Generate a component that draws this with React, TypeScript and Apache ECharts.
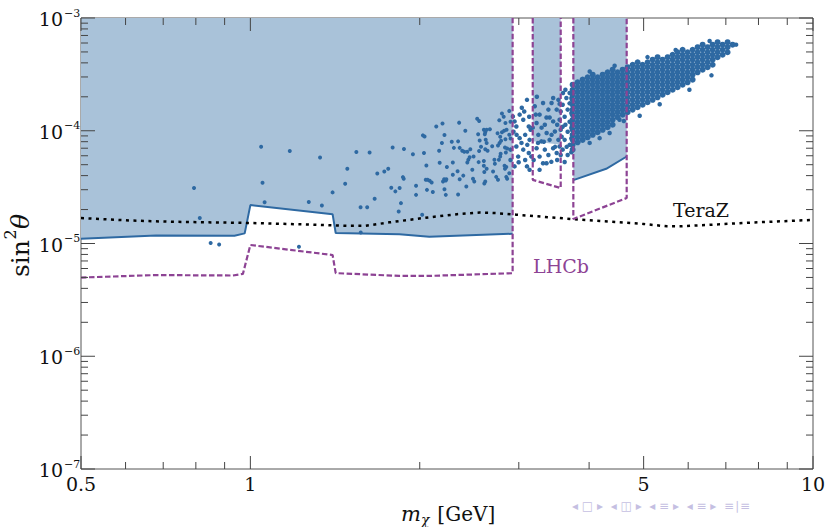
import { useEffect, useRef } from "react";
import * as echarts from "echarts";

const FONT = "'DejaVu Serif', 'Liberation Serif', serif";
const BLUE = "#2e69a2";
const FILL = "#a9c2d9";
const PURPLE = "#8d4394";

// ---- axis ticks ----
const xMajorTicks = [0.5, 1, 5, 10];
const xTickLabels = ["0.5", "1", "5", "10"];
const xMinorTicks = [0.6, 0.7, 0.8, 0.9, 2, 3, 4, 6, 7, 8, 9];
const yMajorTicks = [1e-7, 1e-6, 1e-5, 1e-4, 1e-3];
const yTickExponents = ["−7", "−6", "−5", "−4", "−3"];
const yMinorMultipliers = [2, 3, 4, 5, 6, 7, 8, 9];

// ---- excluded regions (B decays) ----
const bDecaysMain = [[0.5, 1e-3], [0.5, 1.10e-5], [0.68, 1.18e-5], [0.937, 1.17e-5], [0.977, 1.23e-5], [1.0, 2.19e-5], [1.40, 1.82e-5], [1.418, 1.24e-5], [1.84, 1.21e-5], [2.08, 1.15e-5], [2.925, 1.22e-5], [2.925, 1e-3]];
const bDecaysWindow1 = [[3.176, 1e-3], [3.176, 8.05e-5], [3.561, 7.5e-5], [3.561, 1e-3]];
const bDecaysWindow2 = [[3.75, 1e-3], [3.75, 3.65e-5], [4.29, 4.6e-5], [4.665, 5.91e-5], [4.665, 1e-3]];
const bDecaysEdgeMain = [[0.5, 1.10e-5], [0.68, 1.18e-5], [0.937, 1.17e-5], [0.977, 1.23e-5], [1.0, 2.19e-5], [1.40, 1.82e-5], [1.418, 1.24e-5], [1.84, 1.21e-5], [2.08, 1.15e-5], [2.925, 1.22e-5]];
const bDecaysEdgeWindow2 = [[3.75, 3.65e-5], [4.29, 4.6e-5], [4.665, 5.91e-5]];

// ---- LHCb projection ----
const lhcbLow = [[0.5, 4.99e-6], [0.68, 5.25e-6], [0.93, 5.2e-6], [0.97, 5.38e-6], [1.0, 9.7e-6], [1.40, 7.9e-6], [1.418, 5.46e-6], [1.84, 5.16e-6], [2.08, 5.16e-6], [2.925, 5.45e-6], [2.925, 1e-3]];
const lhcbWindow1 = [[3.176, 1e-3], [3.176, 3.67e-5], [3.561, 3.10e-5], [3.561, 1e-3]];
const lhcbWindow2 = [[3.75, 1e-3], [3.75, 1.65e-5], [4.665, 2.53e-5], [4.665, 1e-3]];

// ---- TeraZ projection ----
const teraZ = [[0.5, 1.68e-5], [0.61, 1.6e-5], [0.719, 1.56e-5], [1.0, 1.52e-5], [1.224, 1.48e-5], [1.501, 1.435e-5], [1.6, 1.435e-5], [1.768, 1.54e-5], [2.024, 1.68e-5], [2.33, 1.82e-5], [2.556, 1.88e-5], [2.735, 1.86e-5], [2.97, 1.8e-5], [3.74, 1.646e-5], [4.532, 1.54e-5], [5.0, 1.49e-5], [5.5, 1.42e-5], [5.8, 1.42e-5], [6.8, 1.48e-5], [7.7, 1.53e-5], [10, 1.62e-5]];

// ---- model points: sparse part ----
const pointsSparse = [[0.794, 3.1e-5], [0.813, 1.68e-5], [0.85, 1.01e-5], [0.88, 9.8e-6], [1.045, 7.2e-5], [1.175, 6.6e-5], [1.33, 5.8e-5], [1.487, 4.6e-5], [1.051, 3.46e-5], [1.06, 2.32e-5], [1.27, 2.33e-5], [1.34, 2.17e-5], [1.40, 2.84e-5], [1.474, 3.39e-5], [1.22, 9.35e-6], [1.57, 2.1e-5], [1.613, 2.1e-5], [1.663, 2.49e-5], [1.571, 1.25e-5], [1.543, 6.47e-5], [1.629, 6.4e-5], [1.681, 4.18e-5], [1.73, 4.35e-5], [1.758, 4.6e-5], [1.79, 7.1e-5], [1.875, 6.88e-5], [1.78, 3.12e-5], [1.81, 2.9e-5], [1.842, 3.1e-5], [1.852, 2.28e-5], [1.835, 1.92e-5], [1.867, 3.88e-5], [1.873, 3.75e-5], [1.945, 6.2e-5], [1.97, 3.25e-5], [1.97, 2.7e-5], [2.02, 1.8e-5], [2.026, 9.1e-5], [2.04, 8.9e-5], [2.035, 6.35e-5], [2.055, 4.92e-5], [2.05, 3.67e-5], [2.065, 3.67e-5], [2.083, 3.6e-5], [2.1, 3.48e-5], [2.06, 2.99e-5], [2.11, 2.86e-5], [2.14, 1.09e-4], [2.195, 1.16e-4], [2.213, 9.15e-5], [2.19, 7.8e-5], [2.165, 6.64e-5], [2.17, 5.2e-5], [2.21, 3.72e-5], [2.225, 3.62e-5], [2.23, 3.72e-5], [2.2, 3.55e-5], [2.213, 3.03e-5], [2.225, 2.7e-5], [2.235, 4.76e-5], [2.28, 7.98e-5], [2.3, 7.05e-5], [2.29, 5.23e-5], [2.29, 4.07e-5], [2.34, 8.05e-5], [2.35, 1.18e-4], [2.355, 7.05e-5], [2.38, 6.65e-5], [2.4, 6.5e-5], [2.43, 6.5e-5], [2.41, 1.0e-4], [2.335, 4.38e-5], [2.355, 3.72e-5], [2.34, 2.72e-5], [2.39, 4.0e-5], [2.42, 3.2e-5], [2.43, 5.23e-5], [2.44, 5.53e-5], [2.453, 5.83e-5], [2.46, 6.86e-5], [2.48, 4.51e-5], [2.487, 3.75e-5], [2.5, 3.55e-5], [2.493, 5.9e-5], [2.53, 1.28e-4], [2.55, 1.22e-4], [2.54, 9.3e-5], [2.556, 8.2e-5], [2.57, 7.2e-5], [2.55, 6.6e-5], [2.545, 5.27e-5], [2.6, 1.02e-4], [2.615, 9.7e-5], [2.63, 1.02e-4], [2.61, 9.3e-5], [2.62, 8.32e-5], [2.63, 7.8e-5], [2.615, 6.85e-5], [2.6, 5.4e-5], [2.6, 4.9e-5], [2.605, 4.3e-5], [2.605, 3.4e-5], [2.63, 4.6e-5], [2.64, 6.65e-5], [2.665, 1.03e-4], [2.69, 7.3e-5], [2.715, 5.53e-5], [2.72, 5.1e-5], [2.735, 3.9e-5], [2.755, 3.67e-5], [2.77, 1.24e-4], [2.8, 1.42e-4], [2.84, 1.17e-4], [2.885, 1.5e-4], [2.75, 9.5e-5], [2.78, 8.85e-5], [2.79, 8.17e-5], [2.773, 7.78e-5], [2.755, 7.4e-5], [2.8, 9.7e-5], [2.825, 1.0e-4], [2.853, 1.02e-4], [2.84, 8.4e-5], [2.835, 7.1e-5], [2.86, 6.95e-5], [2.845, 6.4e-5], [2.785, 6.25e-5], [2.78, 5.9e-5], [2.765, 5.53e-5], [2.83, 4.9e-5], [2.85, 4.76e-5], [2.835, 4.6e-5], [2.85, 3.9e-5], [2.86, 3.75e-5], [2.885, 9.2e-5], [2.9, 8.55e-5], [2.615, 3.55e-5], [2.7, 4.35e-5], [2.885, 4.2e-5], [2.9, 1.2e-4], [2.82, 1.33e-4]];

// ---- model points: medium-density part (2.9 – 3.7 GeV) and cloud outliers ----
const pointsMedium = [[2.928, 1.34e-4], [2.948, 1.21e-4], [2.97, 1.09e-4], [3.01, 1.39e-4], [3.055, 1.25e-4], [3.102, 1.88e-4], [3.125, 1.09e-4], [3.01, 8.6e-5], [3.079, 9.2e-5], [3.135, 8.3e-5], [2.97, 7.25e-5], [3.055, 6.8e-5], [3.125, 6.35e-5], [2.992, 5.9e-5], [3.079, 5.5e-5], [3.158, 5.9e-5], [3.102, 4.83e-5], [3.135, 4.5e-5], [2.948, 4.83e-5], [3.033, 7.8e-5], [2.936, 9.8e-5], [3.148, 1.02e-4], [3.037, 1.6e-4], [3.202, 1.65e-4], [3.313, 1.76e-4], [3.453, 1.95e-4], [3.527, 1.88e-4], [3.266, 1.39e-4], [3.386, 1.54e-4], [3.503, 1.54e-4], [3.226, 1.17e-4], [3.337, 1.13e-4], [3.453, 1.21e-4], [3.545, 1.25e-4], [3.249, 9.2e-5], [3.362, 9.55e-5], [3.477, 9.85e-5], [3.29, 8.05e-5], [3.403, 8.3e-5], [3.527, 8.3e-5], [3.226, 7.0e-5], [3.337, 6.8e-5], [3.453, 7.0e-5], [3.266, 5.9e-5], [3.386, 6.1e-5], [3.503, 6.35e-5], [3.313, 5.15e-5], [3.427, 5.3e-5], [3.266, 4.5e-5], [3.545, 7.25e-5], [3.188, 5.5e-5], [3.403, 1.31e-4], [3.323, 8.0e-5], [3.595, 2.16e-4], [3.645, 1.95e-4], [3.693, 2.16e-4], [3.59, 1.7e-4], [3.664, 1.54e-4], [3.619, 1.33e-4], [3.693, 1.2e-4], [3.59, 1.085e-4], [3.664, 9.8e-5], [3.619, 8.3e-5], [3.693, 7.5e-5], [3.59, 6.8e-5], [3.664, 6.1e-5], [3.619, 5.28e-5], [3.693, 1.75e-4], [3.575, 8.85e-5], [3.649, 7.2e-5],
  [2.973, 9.2e-5], [3.106, 7.5e-5], [3.176, 1.065e-4], [2.998, 5.25e-5], [3.067, 1.48e-4], [3.13, 1.33e-4], [3.23, 2.0e-4], [3.293, 1.065e-4], [3.36, 1.31e-4], [3.43, 1.76e-4], [3.51, 1.13e-4], [3.561, 1.48e-4], [3.245, 7.8e-5], [3.43, 9.2e-5], [3.36, 5.15e-5], [3.51, 5.5e-5], [3.215, 1.39e-4], [3.545, 1.73e-4], [3.72, 1.95e-4], [3.72, 1.44e-4], [3.72, 1.065e-4], [3.72, 8.6e-5], [3.72, 6.45e-5], [3.63, 2.31e-4], [3.63, 1.13e-4], [3.561, 1.02e-4], [3.561, 6.1e-5], [3.48, 7.2e-5], [2.9, 6.8e-5], [2.9, 5.5e-5],
  [4.53, 1.25e-4], [4.61, 1.22e-4], [4.009, 7.8e-5], [4.35, 9.55e-5], [4.176, 8.6e-5],
  [4.01, 3.35e-4], [4.44, 3.77e-4], [5.08, 4.5e-4], [5.7, 5.2e-4], [6.55, 6.25e-4], [7.3, 5.8e-4], [5.34, 1.72e-4], [6.03, 2.31e-4], [6.6, 3.1e-4], [4.92, 1.36e-4]];

// ---- model points: dense cloud, read column by column (mass, sin^2 values) ----
const cloudColumns: [number, number[]][] = [
  [3.739, [2.56e-4, 2.31e-4, 2.09e-4, 1.88e-4, 1.70e-4, 1.54e-4, 1.39e-4, 1.25e-4, 1.13e-4, 1.02e-4, 9.2e-5, 8.3e-5, 7.5e-5, 6.8e-5]],
  [3.816, [2.69e-4, 2.43e-4, 2.20e-4, 1.98e-4, 1.79e-4, 1.62e-4, 1.46e-4, 1.32e-4, 1.19e-4, 1.075e-4, 9.7e-5, 8.75e-5, 7.9e-5]],
  [3.895, [2.84e-4, 2.56e-4, 2.31e-4, 2.09e-4, 1.88e-4, 1.70e-4, 1.54e-4, 1.39e-4, 1.25e-4, 1.13e-4, 1.02e-4, 9.2e-5, 8.3e-5]],
  [3.976, [2.98e-4, 2.69e-4, 2.43e-4, 2.20e-4, 1.98e-4, 1.79e-4, 1.62e-4, 1.46e-4, 1.32e-4, 1.19e-4, 1.075e-4, 9.7e-5, 8.75e-5]],
  [4.059, [3.14e-4, 2.84e-4, 2.56e-4, 2.31e-4, 2.09e-4, 1.88e-4, 1.70e-4, 1.54e-4, 1.39e-4, 1.25e-4, 1.13e-4, 1.02e-4, 9.2e-5]],
  [4.142, [2.98e-4, 2.69e-4, 2.43e-4, 2.20e-4, 1.98e-4, 1.79e-4, 1.62e-4, 1.46e-4, 1.32e-4, 1.19e-4, 1.075e-4, 9.7e-5]],
  [4.228, [3.14e-4, 2.84e-4, 2.56e-4, 2.31e-4, 2.09e-4, 1.88e-4, 1.70e-4, 1.54e-4, 1.39e-4, 1.25e-4, 1.13e-4, 1.02e-4]],
  [4.315, [3.30e-4, 2.98e-4, 2.69e-4, 2.43e-4, 2.20e-4, 1.98e-4, 1.79e-4, 1.62e-4, 1.46e-4, 1.32e-4, 1.19e-4, 1.075e-4]],
  [4.404, [3.48e-4, 3.14e-4, 2.84e-4, 2.56e-4, 2.31e-4, 2.09e-4, 1.88e-4, 1.70e-4, 1.54e-4, 1.39e-4, 1.25e-4, 1.13e-4]],
  [4.495, [3.30e-4, 2.98e-4, 2.69e-4, 2.43e-4, 2.20e-4, 1.98e-4, 1.79e-4, 1.62e-4, 1.46e-4, 1.32e-4]],
  [4.588, [3.48e-4, 3.14e-4, 2.84e-4, 2.56e-4, 2.31e-4, 2.09e-4, 1.88e-4, 1.70e-4, 1.54e-4, 1.39e-4]],
  [4.683, [3.66e-4, 3.30e-4, 2.98e-4, 2.69e-4, 2.43e-4, 2.20e-4, 1.98e-4, 1.79e-4, 1.62e-4, 1.46e-4]],
  [4.780, [3.85e-4, 3.48e-4, 3.14e-4, 2.84e-4, 2.56e-4, 2.31e-4, 2.09e-4, 1.88e-4, 1.70e-4, 1.54e-4]],
  [4.878, [4.05e-4, 3.66e-4, 3.30e-4, 2.98e-4, 2.69e-4, 2.43e-4, 2.20e-4, 1.98e-4, 1.79e-4, 1.62e-4]],
  [4.979, [3.85e-4, 3.48e-4, 3.14e-4, 2.84e-4, 2.56e-4, 2.31e-4, 2.09e-4, 1.88e-4, 1.70e-4]],
  [5.082, [4.05e-4, 3.66e-4, 3.30e-4, 2.98e-4, 2.69e-4, 2.43e-4, 2.20e-4, 1.98e-4, 1.79e-4]],
  [5.188, [4.27e-4, 3.85e-4, 3.48e-4, 3.14e-4, 2.84e-4, 2.56e-4, 2.31e-4, 2.09e-4, 1.88e-4]],
  [5.294, [4.49e-4, 4.05e-4, 3.66e-4, 3.30e-4, 2.98e-4, 2.69e-4, 2.43e-4, 2.20e-4, 1.98e-4]],
  [5.404, [4.27e-4, 3.85e-4, 3.48e-4, 3.14e-4, 2.84e-4, 2.56e-4, 2.31e-4, 2.09e-4]],
  [5.516, [4.49e-4, 4.05e-4, 3.66e-4, 3.30e-4, 2.98e-4, 2.69e-4, 2.43e-4, 2.20e-4]],
  [5.630, [4.72e-4, 4.27e-4, 3.85e-4, 3.48e-4, 3.14e-4, 2.84e-4, 2.56e-4, 2.31e-4]],
  [5.746, [4.97e-4, 4.49e-4, 4.05e-4, 3.66e-4, 3.30e-4, 2.98e-4, 2.69e-4, 2.43e-4]],
  [5.865, [5.23e-4, 4.72e-4, 4.27e-4, 3.85e-4, 3.48e-4, 3.14e-4, 2.84e-4, 2.56e-4]],
  [5.986, [4.97e-4, 4.49e-4, 4.05e-4, 3.66e-4, 3.30e-4, 2.98e-4, 2.69e-4]],
  [6.110, [5.23e-4, 4.72e-4, 4.27e-4, 3.85e-4, 3.48e-4, 3.14e-4, 2.84e-4]],
  [6.236, [5.51e-4, 4.97e-4, 4.49e-4, 4.05e-4, 3.66e-4, 3.30e-4]],
  [6.365, [5.80e-4, 5.23e-4, 4.72e-4, 4.27e-4, 3.85e-4, 3.48e-4]],
  [6.497, [5.51e-4, 4.97e-4, 4.49e-4, 4.05e-4, 3.66e-4]],
  [6.631, [5.80e-4, 5.23e-4, 4.72e-4, 4.27e-4, 3.85e-4]],
  [6.767, [6.10e-4, 5.51e-4, 4.97e-4, 4.49e-4]],
  [6.908, [5.80e-4, 5.23e-4, 4.72e-4]],
  [7.050, [6.10e-4, 5.51e-4, 4.97e-4]],
  [7.196, [5.80e-4]],
];

function polygonSeries(regions: number[][][], z: number) {
  return {
    type: "custom",
    coordinateSystem: "cartesian2d",
    z,
    silent: true,
    clip: true,
    data: regions.map((r) => r[1]),
    renderItem: (params: any, api: any) => {
      const pts = regions[params.dataIndex].map((p) => api.coord(p));
      return { type: "polygon", shape: { points: pts }, style: { fill: FILL } };
    },
  };
}

function lineSeries(data: number[][], color: string, width: number, type: any, z: number) {
  return {
    type: "line",
    data,
    z,
    silent: true,
    symbol: "none",
    clip: true,
    lineStyle: { color, width, type, cap: "butt" },
  };
}

function scatterSeries(data: number[][], size: number) {
  return {
    type: "scatter", data, z: 2, silent: true, symbol: "circle", symbolSize: size,
    itemStyle: { color: BLUE, opacity: 1 },
  };
}

export default function App() {
  const ref = useRef<HTMLDivElement>(null);
  useEffect(() => {
    document.body.style.margin = "0";
    const chart = echarts.init(ref.current!, undefined, { renderer: "svg" });
    const cloud = cloudColumns.flatMap(([m, ys]) => ys.map((y) => [m, y]));

    const ticksSeries = {
      type: "custom",
      coordinateSystem: "cartesian2d",
      z: 10,
      silent: true,
      clip: false,
      data: [[1, 1e-5]],
      renderItem: (params: any, api: any) => {
        const cs = params.coordSys;
        const left = cs.x, top = cs.y, right = cs.x + cs.width, bottom = cs.y + cs.height;
        const children: any[] = [];
        const tick = (x1: number, y1: number, x2: number, y2: number) =>
          children.push({ type: "line", shape: { x1, y1, x2, y2 }, style: { stroke: "#444", lineWidth: 1 } });
        xMajorTicks.forEach((v, i) => {
          const px = api.coord([v, 1e-5])[0];
          tick(px, bottom, px, bottom - 13);
          tick(px, top, px, top + 13);
          children.push({
            type: "text", x: px, y: bottom + 5,
            style: { text: xTickLabels[i], fill: "#111", fontSize: 19, fontFamily: FONT, align: "center", verticalAlign: "top" },
          });
        });
        xMinorTicks.forEach((v) => {
          const px = api.coord([v, 1e-5])[0];
          tick(px, bottom, px, bottom - 7);
          tick(px, top, px, top + 7);
        });
        yMajorTicks.forEach((v, i) => {
          const py = api.coord([1, v])[1];
          tick(left, py, left + 14, py);
          tick(right, py, right - 14, py);
          children.push({
            type: "text", x: left - 18, y: py + 1,
            style: { text: "10", fill: "#111", fontSize: 19, fontFamily: FONT, align: "right", verticalAlign: "middle" },
          });
          children.push({
            type: "text", x: left - 17, y: py - 5,
            style: { text: yTickExponents[i], fill: "#111", fontSize: 11, fontFamily: FONT, align: "left", verticalAlign: "middle" },
          });
        });
        yMajorTicks.slice(0, -1).forEach((d) => {
          yMinorMultipliers.forEach((m) => {
            const py = api.coord([1, d * m])[1];
            tick(left, py, left + 7, py);
            tick(right, py, right - 7, py);
          });
        });
        return { type: "group", children };
      },
    };

    const option: any = {
      animation: false,
      backgroundColor: "#ffffff",
      grid: { left: 81, right: 15, top: 18, bottom: 58, show: true, borderColor: "#555", borderWidth: 1, backgroundColor: "transparent" },
      xAxis: {
        type: "log", logBase: 10, min: 0.5, max: 10,
        axisLine: { show: false }, axisTick: { show: false }, axisLabel: { show: false }, splitLine: { show: false },
      },
      yAxis: {
        type: "log", logBase: 10, min: 1e-7, max: 1e-3,
        axisLine: { show: false }, axisTick: { show: false }, axisLabel: { show: false }, splitLine: { show: false },
      },
      graphic: [
        {
          type: "group", x: 20, y: 244, rotation: Math.PI / 2, silent: true,
          children: [
            { type: "text", x: -33, y: 0, style: { text: "sin", fontSize: 25, fontFamily: FONT, fill: "#111", align: "left", verticalAlign: "middle" } },
            { type: "text", x: 4.5, y: -10, style: { text: "2", fontSize: 16, fontFamily: FONT, fill: "#111", align: "left", verticalAlign: "middle" } },
            { type: "text", x: 15, y: 0, style: { text: "θ", fontSize: 25, fontStyle: "italic", fontFamily: FONT, fill: "#111", align: "left", verticalAlign: "middle" } },
          ],
        },
        {
          type: "group", x: 401, y: 514, silent: true,
          children: [
            { type: "text", x: 0, y: 0, style: { text: "m", fontSize: 21, fontStyle: "italic", fontFamily: FONT, fill: "#111", align: "left", verticalAlign: "middle" } },
            { type: "text", x: 20, y: 6, style: { text: "χ", fontSize: 14, fontStyle: "italic", fontFamily: FONT, fill: "#111", align: "left", verticalAlign: "middle" } },
            { type: "text", x: 30, y: 0, style: { text: " [GeV]", fontSize: 20, fontFamily: FONT, fill: "#111", align: "left", verticalAlign: "middle" } },
          ],
        },
        { type: "text", x: 251, y: 75, silent: true, style: { text: "B decays", fontSize: 19, fontFamily: FONT, fill: "#111", align: "center", verticalAlign: "middle" } },
        { type: "text", x: 701, y: 210, silent: true, style: { text: "TeraZ", fontSize: 19, fontFamily: FONT, fill: "#111", align: "center", verticalAlign: "middle" } },
        { type: "text", x: 561, y: 266, silent: true, style: { text: "LHCb", fontSize: 19, fontFamily: FONT, fill: PURPLE, align: "center", verticalAlign: "middle" } },
        { type: "text", x: 572, y: 506, silent: true, style: { text: "◂ □ ▸  ◂ ◫ ▸  ◂ ≡ ▸  ◂ ≡ ▸  ≡∣≡", fontSize: 12, fontFamily: "'DejaVu Sans', sans-serif", fill: "#c5bfe2", align: "left", verticalAlign: "middle" } },
      ],
      series: [
        polygonSeries([bDecaysMain, bDecaysWindow1, bDecaysWindow2], 1),
        scatterSeries(pointsSparse, 4),
        scatterSeries(pointsMedium, 4.5),
        scatterSeries(cloud, 6),
        lineSeries(bDecaysEdgeMain, BLUE, 2, "solid", 3),
        lineSeries(bDecaysEdgeWindow2, BLUE, 2, "solid", 3),
        lineSeries(teraZ, "#000", 2.5, [3, 4.5], 4),
        lineSeries(lhcbLow, PURPLE, 2.2, [5.5, 2.5], 5),
        lineSeries(lhcbWindow1, PURPLE, 2.2, [5.5, 2.5], 5),
        lineSeries(lhcbWindow2, PURPLE, 2.2, [5.5, 2.5], 5),
        ticksSeries,
      ],
    };
    chart.setOption(option);
    return () => chart.dispose();
  }, []);
  return <div ref={ref} style={{ width: 828, height: 527 }} />;
}
